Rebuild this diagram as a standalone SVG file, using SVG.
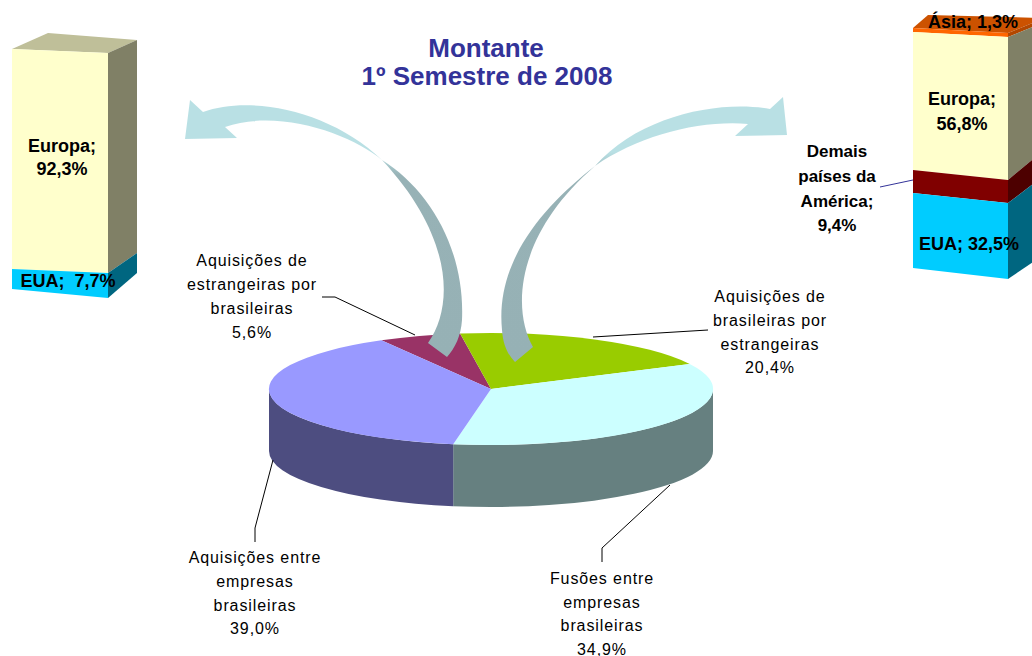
<svg xmlns="http://www.w3.org/2000/svg" width="1032" height="656" viewBox="0 0 1032 656">
<style>
.title{font-family:"Liberation Sans",Arial,sans-serif;font-weight:bold;font-size:26px;fill:#333399;text-anchor:middle}
.bl{font-family:"Liberation Sans",Arial,sans-serif;font-weight:bold;font-size:18px;fill:#000;text-anchor:middle}
.dl{font-family:"Liberation Sans",Arial,sans-serif;font-weight:bold;font-size:17px;fill:#000;text-anchor:middle}
.pl{font-family:"Liberation Sans",Arial,sans-serif;font-size:16px;letter-spacing:0.9px;fill:#000;text-anchor:middle}
.lead{fill:none;stroke:#000;stroke-width:1}
</style>
<defs>
<linearGradient id="arrowGrad" gradientUnits="userSpaceOnUse" x1="0" y1="100" x2="0" y2="360">
<stop offset="0" stop-color="#b9e0e4"/>
<stop offset="0.2" stop-color="#b9e0e4"/>
<stop offset="0.29" stop-color="#97b2b6"/>
<stop offset="1" stop-color="#96b1b5"/>
</linearGradient>
</defs>
<rect width="1032" height="656" fill="#ffffff"/>

<g id="title">
<text class="title" x="486" y="57">Montante</text>
<text class="title" x="487" y="85">1º Semestre de 2008</text>
</g>

<g id="bar-left">
<polygon points="12,49 48,33 137,40 108,53" fill="#bfbf99"/>
<polygon points="12,49 108,53 108,273 12,269" fill="#ffffcc"/>
<polygon points="12,269 108,273 108,298 12,289" fill="#00ccff"/>
<polygon points="108,53 137,40 137,253 108,273" fill="#808066"/>
<polygon points="108,273 137,253 137,273 108,298" fill="#006680"/>
<text class="bl" x="62" y="152">Europa;</text>
<text class="bl" x="62" y="175">92,3%</text>
<text class="bl" x="68" y="287" xml:space="preserve" style="white-space:pre">EUA;  7,7%</text>
</g>

<g id="bar-right">
<polygon points="913,28 928,15 1045,18 1008,33" fill="#cc5200"/>
<polygon points="913,28 1008,33 1008,37 913,32" fill="#ff6600"/>
<polygon points="913,32 1008,37 1008,180 913,170" fill="#ffffcc"/>
<polygon points="913,170 1008,180 1008,203 913,193" fill="#800000"/>
<polygon points="913,193 1008,203 1008,279 913,268" fill="#00ccff"/>
<polygon points="1008,33 1045,18 1045,22 1008,37" fill="#b34700"/>
<polygon points="1008,37 1045,22 1045,149 1008,180" fill="#808066"/>
<polygon points="1008,180 1045,149 1045,175 1008,203" fill="#4d0000"/>
<polygon points="1008,203 1045,175 1045,254 1008,279" fill="#006680"/>
<text class="bl" x="973" y="28">Ásia; 1,3%</text>
<text class="bl" x="962" y="105">Europa;</text>
<text class="bl" x="962" y="130">56,8%</text>
<text class="bl" x="969" y="250">EUA; 32,5%</text>
</g>

<g id="label-demais">
<text class="dl" x="837" y="157">Demais</text>
<text class="dl" x="837" y="182">países da</text>
<text class="dl" x="837" y="207">América;</text>
<text class="dl" x="837" y="231">9,4%</text>
</g>

<g id="pie">
<path id="side-fusoes" d="M713,389 A222,56 0 0 1 453.2,444.2 L453.2,506.2 A222,56 0 0 0 713,451 Z" fill="#668080"/>
<path id="side-aquis-entre" d="M453.2,444.2 A222,56 0 0 1 269,389 L269,451 A222,56 0 0 0 453.2,506.2 Z" fill="#4d4d80"/>
<path id="slice-estrangeiras-por-brasileiras" d="M491,389 L381.4,340.3 A222,56 0 0 1 460.1,333.5 Z" fill="#993366"/>
<path id="slice-brasileiras-por-estrangeiras" d="M491,389 L460.1,333.5 A222,56 0 0 1 689.7,364 Z" fill="#99cc00"/>
<path id="slice-fusoes" d="M491,389 L689.7,364 A222,56 0 0 1 453.2,444.2 Z" fill="#ccffff"/>
<path id="slice-aquis-entre" d="M491,389 L453.2,444.2 A222,56 0 0 1 381.4,340.3 Z" fill="#9999ff"/>
</g>

<g id="arrow-left">
<path d="M185,139 L190,100 L203,112 C250,95 330,110 382,160 C430,190 465,250 462,320 C461,336 455,348 447,357 L428,343 C455,305 452,235 382,160 C352,135 280,108 225,127 L237,138 Z" fill="url(#arrowGrad)"/>
</g>
<g id="arrow-right">
<path d="M787,135 L783,97 L770,109 C720,100 640,115 595,166 C545,205 495,260 502,330 C503,345 508,355 515,362 L533,347 C512,310 515,235 595,166 C640,135 700,120 748,124 L735,136 Z" fill="url(#arrowGrad)"/>
</g>

<g id="connectors">
<polyline class="lead" points="322,297 335,297 415,335"/>
<polyline class="lead" points="593,337 708,330"/>
<polyline class="lead" points="273,460 255,528 255,542"/>
<polyline class="lead" points="670,485 602,548 602,562"/>
<line x1="880" y1="187" x2="913" y2="180" stroke="#333399" stroke-width="1"/>
</g>

<g id="label-estrangeiras-por-brasileiras">
<text class="pl" x="252" y="266">Aquisições de</text>
<text class="pl" x="252" y="290">estrangeiras por</text>
<text class="pl" x="252" y="314">brasileiras</text>
<text class="pl" x="252" y="338">5,6%</text>
</g>
<g id="label-brasileiras-por-estrangeiras">
<text class="pl" x="770" y="302">Aquisições de</text>
<text class="pl" x="770" y="326">brasileiras por</text>
<text class="pl" x="770" y="350">estrangeiras</text>
<text class="pl" x="770" y="373">20,4%</text>
</g>
<g id="label-aquis-entre">
<text class="pl" x="255" y="563">Aquisições entre</text>
<text class="pl" x="255" y="587">empresas</text>
<text class="pl" x="255" y="611">brasileiras</text>
<text class="pl" x="255" y="634">39,0%</text>
</g>
<g id="label-fusoes">
<text class="pl" x="602" y="584">Fusões entre</text>
<text class="pl" x="602" y="608">empresas</text>
<text class="pl" x="602" y="631">brasileiras</text>
<text class="pl" x="602" y="655">34,9%</text>
</g>
</svg>
